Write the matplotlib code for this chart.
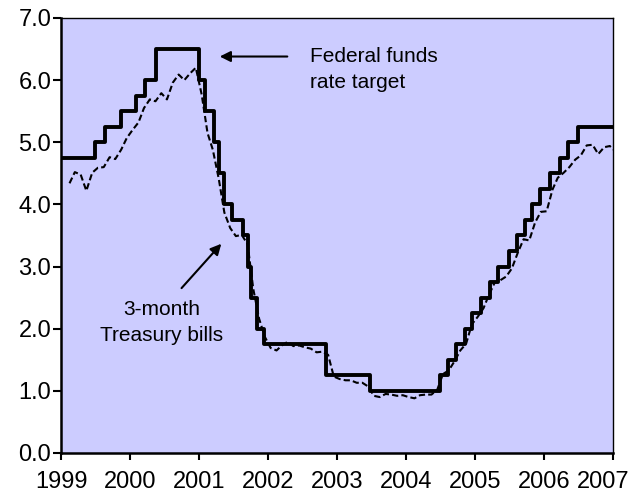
import numpy as np
import pandas as pd
import matplotlib
matplotlib.use("Agg")
import matplotlib.pyplot as plt
from matplotlib.transforms import ScaledTranslation

plt.rcParams["font.family"] = ["Liberation Sans", "DejaVu Sans"]

# Federal funds rate target: change dates and new target levels
fomc_dates = [
    "1999-01-01", "1999-06-30", "1999-08-24", "1999-11-16", "2000-02-02",
    "2000-03-21", "2000-05-16", "2001-01-03", "2001-01-31", "2001-03-20",
    "2001-04-18", "2001-05-15", "2001-06-27", "2001-08-21", "2001-09-17",
    "2001-10-02", "2001-11-06", "2001-12-11", "2002-11-06", "2003-06-25",
    "2004-06-30", "2004-08-10", "2004-09-21", "2004-11-10", "2004-12-14",
    "2005-02-02", "2005-03-22", "2005-05-03", "2005-06-30", "2005-08-09",
    "2005-09-20", "2005-11-01", "2005-12-13", "2006-01-31", "2006-03-28",
    "2006-05-10", "2006-06-29", "2007-01-01",
]
fomc_target = [
    4.75, 5.00, 5.25, 5.50, 5.75,
    6.00, 6.50, 6.00, 5.50, 5.00,
    4.50, 4.00, 3.75, 3.50, 3.00,
    2.50, 2.00, 1.75, 1.25, 1.00,
    1.25, 1.50, 1.75, 2.00, 2.25,
    2.50, 2.75, 3.00, 3.25, 3.50,
    3.75, 4.00, 4.25, 4.50, 4.75,
    5.00, 5.25, 5.25,
]

# 3-month Treasury bill rate, monthly, Jan 1999 - Dec 2006
tbill_start = "1999-01-15"
tbill = [
    4.34, 4.52, 4.48, 4.22, 4.51, 4.59, 4.60, 4.76, 4.73, 4.88, 5.07, 5.20,
    5.32, 5.55, 5.69, 5.66, 5.79, 5.69, 5.96, 6.09, 6.00, 6.11, 6.20, 5.77,
    5.15, 4.88, 4.42, 3.87, 3.62, 3.49, 3.51, 3.36, 2.64, 2.16, 1.87, 1.69,
    1.65, 1.73, 1.79, 1.72, 1.73, 1.70, 1.68, 1.62, 1.63, 1.58, 1.23, 1.19,
    1.17, 1.17, 1.13, 1.13, 1.07, 0.92, 0.90, 0.95, 0.94, 0.92, 0.93, 0.90,
    0.88, 0.93, 0.94, 0.94, 1.02, 1.27, 1.33, 1.48, 1.65, 1.76, 2.07, 2.19,
    2.33, 2.54, 2.74, 2.78, 2.84, 2.97, 3.22, 3.44, 3.42, 3.71, 3.88, 3.89,
    4.24, 4.43, 4.51, 4.60, 4.72, 4.79, 4.95, 4.96, 4.81, 4.92, 4.94, 4.85,
]

year_ticks = [1999, 2000, 2001, 2002, 2003, 2004, 2005, 2006, 2007]
y_ticks = [0.0, 1.0, 2.0, 3.0, 4.0, 5.0, 6.0, 7.0]


def to_year_frac(dates):
    d = pd.to_datetime(dates)
    start = pd.to_datetime(d.year.astype(str) + "-01-01")
    days = np.where(d.is_leap_year, 366.0, 365.0)
    return d.year + (d - start).days / days


fomc_x = to_year_frac(fomc_dates)
tbill_x = to_year_frac(pd.date_range(tbill_start, periods=len(tbill), freq="MS")
                       + pd.Timedelta(days=14))

fig = plt.figure(figsize=(6.33, 5.04), dpi=100)
ax = fig.add_axes([0.0964, 0.1012, 0.872, 0.8631])
ax.set_facecolor("#ccccff")

ax.plot(tbill_x, tbill, color="black", lw=1.5, ls=(0, (3, 1.5)))
ax.plot(fomc_x, fomc_target, color="black", lw=2.8, drawstyle="steps-post")

ax.set_xlim(1999, 2007)
ax.set_ylim(0, 7)
ax.set_xticks(year_ticks)
ax.set_xticklabels([str(y) for y in year_ticks])
ax.set_yticks(y_ticks)
ax.set_yticklabels([f"{v:.1f}" for v in y_ticks])
ax.tick_params(axis="both", labelsize=17, width=1.5, direction="out")
ax.tick_params(axis="x", length=5, pad=8)
ax.tick_params(axis="y", length=5.5, pad=1.5)

# last year label is nudged left so it stays inside the picture
last = ax.get_xticklabels()[-1]
last.set_transform(last.get_transform()
                   + ScaledTranslation(-0.10, 0, fig.dpi_scale_trans))

for side in ["left", "bottom"]:
    ax.spines[side].set_linewidth(1.8)
for side in ["top", "right"]:
    ax.spines[side].set_linewidth(1.0)

ax.annotate("", xy=(2001.26, 6.38), xytext=(2002.32, 6.38),
            arrowprops=dict(arrowstyle="-|>", color="black", lw=1.5,
                            mutation_scale=16))
ax.text(2002.61, 6.17, "Federal funds\nrate target", fontsize=15,
        ha="left", va="center", linespacing=1.45)

ax.annotate("", xy=(2001.35, 3.40), xytext=(2000.72, 2.62),
            arrowprops=dict(arrowstyle="-|>", color="black", lw=1.5,
                            mutation_scale=16))
ax.text(2000.46, 2.10, "3-month\nTreasury bills", fontsize=15,
        ha="center", va="center", linespacing=1.45)

fig.savefig("out.png", dpi=100)
